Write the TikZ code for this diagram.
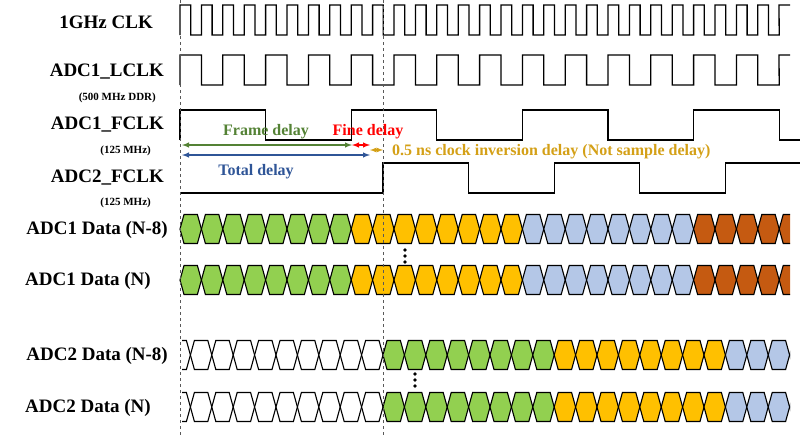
\documentclass[tikz,border=0pt]{standalone}
\usepackage{fontspec}
\setmainfont{Liberation Serif}
\definecolor{cg}{HTML}{92D050}
\definecolor{cy}{HTML}{FFC000}
\definecolor{cb}{HTML}{B4C7E7}
\definecolor{co}{HTML}{C55A11}
\definecolor{fg}{HTML}{548235}
\definecolor{fb}{HTML}{2F5597}
\definecolor{fo}{HTML}{D4A017}
\begin{document}
\begin{tikzpicture}[x=1pt,y=-1pt,
  wave/.style={line width=1.3pt,line join=miter},
  lab/.style={anchor=east,font=\bfseries\fontsize{19}{19}\selectfont,inner sep=0pt},
  sub/.style={anchor=east,font=\bfseries\fontsize{11}{11}\selectfont,inner sep=0pt},
  guide/.style={dashed,gray!70!black,line width=0.6pt},
  darr/.style={<->,>=latex,line width=1.4pt},
  ann/.style={font=\bfseries\fontsize{16}{16}\selectfont,inner sep=0pt}]
\useasboundingbox (0,0) rectangle (800,437);
\def\T{21.4}
\newcommand\cellrow[5]{% y, startindex, endindex, origin, color
  \foreach \k in {#2,...,#3}{
    \pgfmathsetmacro\a{#4+\k*\T}\pgfmathsetmacro\b{#4+(\k+1)*\T}
    \filldraw[fill=#5,line width=1.1pt,line join=miter] (\a,#1) -- (\a+4,#1-14.5) -- (\b-4,#1-14.5) -- (\b,#1) -- (\b-4,#1+14.5) -- (\a+4,#1+14.5) -- cycle;}}
% labels
\node[lab] (l1) at (153,22) {1GHz CLK};
\node[lab] (l2) at (164,72) {ADC1\_LCLK};
\node[sub] (s2) at (156,98) {(500 MHz DDR)};
\node[lab] (l3) at (164,125) {ADC1\_FCLK};
\node[sub] (s3) at (151,151) {(125 MHz)};
\node[lab] (l4) at (164,178) {ADC2\_FCLK};
\node[sub] (s4) at (151,203) {(125 MHz)};
\node[lab] (l5) at (168,230) {ADC1 Data (N-8)};
\node[lab] (l6) at (151,281) {ADC1 Data (N)};
\node[lab] (l7) at (168,356) {ADC2 Data (N-8)};
\node[lab] (l8) at (151,408) {ADC2 Data (N)};
% clocks
\draw[wave] (180,35) foreach \i in {0,...,27}{ -- ({180+\i*\T},5) -- ({180+\i*\T+\T/2},5) -- ({180+\i*\T+\T/2},35) -- ({180+(\i+1)*\T},35)} -- (779,5) -- (790,5);
\draw[wave] (180,85) foreach \i in {0,...,13}{ -- ({180+2*\i*\T},55) -- ({180+2*\i*\T+\T},55) -- ({180+2*\i*\T+\T},85) -- ({180+2*(\i+1)*\T},85)} -- (779,55) -- (790,55);
\draw[wave] (180,140) foreach \i in {0,...,3}{ -- ({180+8*\i*\T},110) -- ({180+8*\i*\T+4*\T},110) -- ({180+8*\i*\T+4*\T},140) -- ({180+8*(\i+1)*\T},140)} -- (790,140);
\draw[wave] (180,193) -- (383,193) foreach \i in {0,...,2}{ -- ({383+8*\i*\T},163) -- ({383+8*\i*\T+4*\T},163) -- ({383+8*\i*\T+4*\T},193) -- ({383+8*(\i+1)*\T},193)};
\begin{scope}\clip (176,180) rectangle (790,437);
\cellrow{229}{0}{7}{180}{cg}\cellrow{229}{8}{15}{180}{cy}\cellrow{229}{16}{23}{180}{cb}\cellrow{229}{24}{29}{180}{co}
\cellrow{280}{0}{7}{180}{cg}\cellrow{280}{8}{15}{180}{cy}\cellrow{280}{16}{23}{180}{cb}\cellrow{280}{24}{29}{180}{co}
\end{scope}
\begin{scope}\clip (182,300) rectangle (790,437);
\cellrow{355}{-10}{-1}{383}{white}\cellrow{355}{0}{7}{383}{cg}\cellrow{355}{8}{15}{383}{cy}\cellrow{355}{16}{19}{383}{cb}
\cellrow{407}{-10}{-1}{383}{white}\cellrow{407}{0}{7}{383}{cg}\cellrow{407}{8}{15}{383}{cy}\cellrow{407}{16}{19}{383}{cb}
\end{scope}
% dots
\foreach \y in {250,256,262}{\fill (405,\y) circle (1.9);}
\foreach \y in {374,380,386}{\fill (415,\y) circle (1.9);}
% guides
\draw[guide] (180,0) -- (180,437);
\draw[guide] (383,0) -- (383,437);
% delays
\coordinate (a0) at (182,145); \coordinate (a1) at (352,145); \coordinate (a2) at (370,145);
\coordinate (b0) at (182,155); \coordinate (b1) at (370,155);
\coordinate (c0) at (370,150); \coordinate (c1) at (383,150);
\draw[darr,fg] (a0) -- (a1);
\draw[darr,red] (a1) -- (a2);
\draw[darr,fb] (b0) -- (b1);
\draw[darr,fo,line width=1.2pt] (c0) -- (c1);
\node[ann,fg] (t1) at (266,132) {Frame delay};
\node[ann,red] (t2) at (368,132) {Fine delay};
\node[ann,fb] (t3) at (256,172) {Total delay};
\node[ann,fo,anchor=west] (t4) at (392,152) {0.5 ns clock inversion delay (Not sample delay)};
\end{tikzpicture}
\end{document}
